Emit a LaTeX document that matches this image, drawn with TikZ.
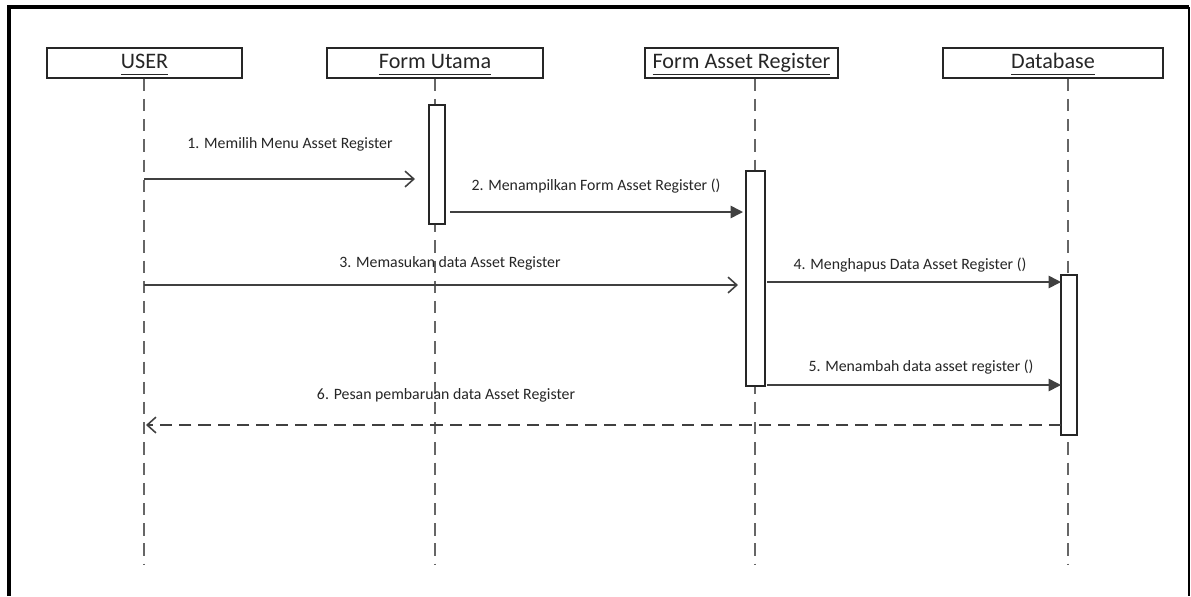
\documentclass[tikz,border=0pt]{standalone}
\usepackage{fontspec}
\setmainfont{Carlito}
\usetikzlibrary{arrows.meta}
\newcommand\hdul[1]{\underline{#1\vphantom{gy}}}
\begin{document}
\begin{tikzpicture}[x=0.02cm,y=-0.02cm,
  head/.style={draw=black!85,line width=0.8pt,minimum height=30*0.02cm,inner sep=0pt,text height=9pt,text depth=3pt,font=\fontsize{12.6}{14}\selectfont,text=black!85},
  life/.style={draw=black!60,line width=0.9pt,dash pattern=on 7pt off 4.5pt},
  act/.style={draw=black!85,fill=white,line width=0.8pt},
  msg/.style={draw=black!75,line width=0.9pt},
  open/.style={msg,-{Straight Barb[length=5pt,width=9pt]}},
  sync/.style={msg,-{Triangle[length=7pt,width=7pt]}},
  ret/.style={msg,dash pattern=on 7pt off 4pt,-{Straight Barb[length=5pt,width=9pt]}},
  lbl/.style={font=\fontsize{9}{11}\selectfont,text=black!85,inner sep=0pt}]
\useasboundingbox (0,0) rectangle (1191,596);
\fill[white] (0,0) rectangle (1191,596);
\draw[line width=2pt] (9,596) -- (9,7) -- (1189,7);
\draw[line width=1.3pt] (1189,7) -- (1189,596);
% heads
\node[head,minimum width=195*0.02cm] (u) at (144.5,63) {\hdul{USER}};
\node[head,minimum width=216*0.02cm] (f) at (435,63) {\hdul{Form Utama}};
\node[head,minimum width=193*0.02cm] (r) at (741.5,63) {\hdul{Form Asset Register}};
\node[head,minimum width=220*0.02cm] (d) at (1053,63) {\hdul{Database}};
% lifelines
\coordinate (ue) at (144,565);
\coordinate (fe) at (435,565);
\coordinate (re) at (755,565);
\coordinate (de) at (1068,565);
\draw[life] (u.south -| ue) -- (ue);
\draw[life] (f.south -| fe) -- (fe);
\draw[life] (r.south -| re) -- (re);
\draw[life] (d.south -| de) -- (de);
% activations
\node[act,minimum width=16*0.02cm,minimum height=119*0.02cm,inner sep=0pt] (fa) at (437,164.5) {};
\node[act,minimum width=19*0.02cm,minimum height=215*0.02cm,inner sep=0pt] (ra) at (755.5,278.5) {};
\node[act,minimum width=16*0.02cm,minimum height=160*0.02cm,inner sep=0pt] (da) at (1069,355) {};
% message anchors
\coordinate (m1s) at (144,179); \coordinate (m1e) at (415,179);
\coordinate (m2s) at (450,212); \coordinate (m2e) at (743,212);
\coordinate (m3s) at (144,285); \coordinate (m3e) at (738,285);
\coordinate (m4s) at (767,282); \coordinate (m4e) at (1061,282);
\coordinate (m5s) at (767,385); \coordinate (m5e) at (1061,385);
\coordinate (m6s) at (1061,425); \coordinate (m6e) at (146,425);
\draw[open] (m1s) -- (m1e);
\draw[sync] (m2s) -- (m2e);
\draw[open] (m3s) -- (m3e);
\draw[sync] (m4s) -- (m4e);
\draw[sync] (m5s) -- (m5e);
\draw[ret] (m6s) -- (m6e);
% labels
\node[lbl] (l1) at (290,144) {1. Memilih Menu Asset Register};
\node[lbl] (l2) at (596,186) {2. Menampilkan Form Asset Register ()};
\node[lbl] (l3) at (450,263) {3. Memasukan data Asset Register};
\node[lbl] (l4) at (910,265) {4. Menghapus Data Asset Register ()};
\node[lbl] (l5) at (921,367) {5. Menambah data asset register ()};
\node[lbl] (l6) at (446,395) {6. Pesan pembaruan data Asset Register};
\end{tikzpicture}
\end{document}
